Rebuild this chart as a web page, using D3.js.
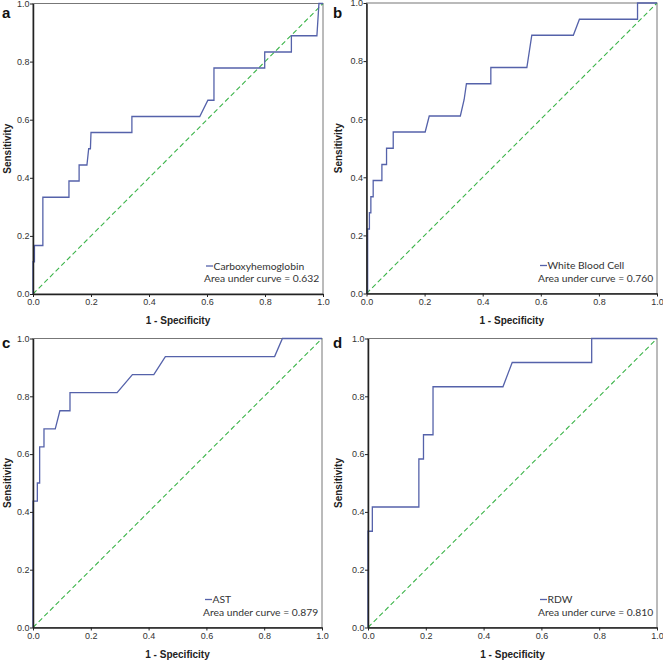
<!DOCTYPE html>
<html>
<head>
<meta charset="utf-8">
<script src="https://cdn.jsdelivr.net/npm/d3@7"></script>
<style>
  body { margin: 0; background: #fff; }
  svg { display: block; }
</style>
</head>
<body>
<div id="chart"></div>
<script>
// ROC curves (1 - specificity, sensitivity)
const panelLetters = ["a", "b", "c", "d"];
const markerNames = ["Carboxyhemoglobin", "White Blood Cell", "AST", "RDW"];
const aucValues = ["0.632", "0.760", "0.879", "0.810"];
const tickValues = [0, 0.2, 0.4, 0.6, 0.8, 1.0];

const fprA = [0, 0, 0.005, 0.005, 0.034, 0.034, 0.124, 0.124, 0.159, 0.159, 0.186, 0.192, 0.198, 0.2, 0.341, 0.341, 0.575, 0.603, 0.624, 0.624, 0.799, 0.799, 0.891, 0.891, 0.979, 0.986, 1];
const tprA = [0, 0.111, 0.111, 0.167, 0.167, 0.333, 0.333, 0.389, 0.389, 0.444, 0.444, 0.5, 0.5, 0.556, 0.556, 0.611, 0.611, 0.667, 0.667, 0.778, 0.778, 0.833, 0.833, 0.889, 0.889, 1, 1];

const fprB = [0, 0.004, 0.004, 0.01, 0.01, 0.015, 0.015, 0.023, 0.023, 0.053, 0.053, 0.069, 0.069, 0.092, 0.092, 0.202, 0.216, 0.323, 0.336, 0.344, 0.428, 0.428, 0.552, 0.569, 0.712, 0.733, 0.933, 0.933, 1];
const tprB = [0, 0, 0.222, 0.222, 0.278, 0.278, 0.333, 0.333, 0.389, 0.389, 0.444, 0.444, 0.5, 0.5, 0.556, 0.556, 0.611, 0.611, 0.667, 0.722, 0.722, 0.778, 0.778, 0.889, 0.889, 0.944, 0.944, 1, 1];

const fprC = [0, 0, 0.015, 0.015, 0.023, 0.023, 0.038, 0.038, 0.077, 0.093, 0.128, 0.128, 0.291, 0.344, 0.418, 0.458, 0.836, 0.863, 1];
const tprC = [0, 0.4375, 0.4375, 0.5, 0.5, 0.625, 0.625, 0.6875, 0.6875, 0.75, 0.75, 0.8125, 0.8125, 0.875, 0.875, 0.9375, 0.9375, 1, 1];

const fprD = [0, 0, 0.015, 0.015, 0.176, 0.176, 0.192, 0.192, 0.225, 0.225, 0.467, 0.499, 0.774, 0.774, 1];
const tprD = [0, 0.333, 0.333, 0.417, 0.417, 0.583, 0.583, 0.667, 0.667, 0.833, 0.833, 0.917, 0.917, 1, 1];

const curves = [[fprA, tprA], [fprB, tprB], [fprC, tprC], [fprD, tprD]];

// plot boxes (left, top, right, bottom) in page pixels
const boxes = [
  [33, 3.5, 323, 294],
  [366.5, 3, 657, 293.5],
  [33, 338.5, 322, 627.5],
  [368, 338.5, 657, 627.5]
];
const origins = [[0, 0], [331, 0], [0, 330], [331, 330]];

const svg = d3.select("#chart").append("svg")
  .attr("width", 663)
  .attr("height", 660);

curves.forEach((c, i) => {
  const [l, t, r, b] = boxes[i];
  const [ox, oy] = origins[i];
  const x = d3.scaleLinear().domain([0, 1]).range([l, r]);
  const y = d3.scaleLinear().domain([0, 1]).range([b, t]);
  const g = svg.append("g");

  // frame
  g.append("rect")
    .attr("x", l).attr("y", t)
    .attr("width", r - l).attr("height", b - t)
    .attr("fill", "none")
    .attr("stroke", "#777")
    .attr("stroke-width", 1);

  // reference diagonal
  g.append("path")
    .attr("d", `M${x(0)},${y(0)}L${x(1)},${y(1)}`)
    .style("stroke", "#3cb44a")
    .style("fill", "none")
    .style("stroke-width", 1.1)
    .style("stroke-dasharray", "5,3");

  // roc curve
  const pts = c[0].map((v, k) => [v, c[1][k]]);
  g.append("path")
    .datum(pts)
    .attr("fill", "none")
    .attr("stroke", "#5562aa")
    .attr("stroke-width", 1.3)
    .attr("d", d3.line().x(d => x(d[0])).y(d => y(d[1])));

  // axes
  const xAxis = g.append("g")
    .attr("transform", `translate(0,${b})`)
    .call(d3.axisBottom(x).tickValues(tickValues).tickSize(3).tickSizeOuter(0).tickFormat(d3.format(".1f")));
  const yAxis = g.append("g")
    .attr("transform", `translate(${l},0)`)
    .call(d3.axisLeft(y).tickValues(tickValues).tickSize(3).tickSizeOuter(0).tickFormat(d3.format(".1f")));
  [xAxis, yAxis].forEach(a => {
    a.select(".domain").attr("stroke", "#222").attr("stroke-width", 1.5);
    a.selectAll(".tick line").attr("stroke", "#222");
    a.selectAll("text")
      .attr("font-family", "Liberation Sans, Arial, sans-serif")
      .attr("font-size", 9)
      .attr("fill", "#333");
  });
  xAxis.selectAll("text").attr("dy", "0.6em");
  yAxis.selectAll("text").attr("x", -3.5);

  // axis titles
  g.append("text")
    .attr("x", (l + r) / 2).attr("y", b + 30)
    .attr("text-anchor", "middle")
    .attr("font-family", "Liberation Sans, Arial, sans-serif")
    .attr("font-weight", "bold")
    .attr("font-size", 10)
    .attr("fill", "#222")
    .text("1 - Specificity");
  g.append("text")
    .attr("transform", `translate(${ox + 10.5},${(t + b) / 2}) rotate(-90)`)
    .attr("text-anchor", "middle")
    .attr("font-family", "Liberation Sans, Arial, sans-serif")
    .attr("font-weight", "bold")
    .attr("font-size", 10)
    .attr("fill", "#222")
    .text("Sensitivity");

  // panel letter
  g.append("text")
    .attr("x", ox + 2).attr("y", oy + 18)
    .attr("font-family", "Liberation Sans, Arial, sans-serif")
    .attr("font-weight", "bold")
    .attr("font-size", 15)
    .attr("fill", "#111")
    .text(panelLetters[i]);

  // legend
  g.append("line")
    .attr("x1", r - 117).attr("x2", r - 110)
    .attr("y1", b - 28).attr("y2", b - 28)
    .attr("stroke", "#5562aa")
    .attr("stroke-width", 1.3);
  g.append("text")
    .attr("x", r - 109.5).attr("y", b - 24.5)
    .attr("font-family", "Lato, sans-serif")
    .attr("font-size", 10.3)
    .attr("fill", "#333")
    .text(markerNames[i]);
  g.append("text")
    .attr("x", r - 119).attr("y", b - 12)
    .attr("font-family", "Lato, sans-serif")
    .attr("font-size", 10.3)
    .attr("fill", "#333")
    .text("Area under curve = " + aucValues[i]);
});
</script>
</body>
</html>
